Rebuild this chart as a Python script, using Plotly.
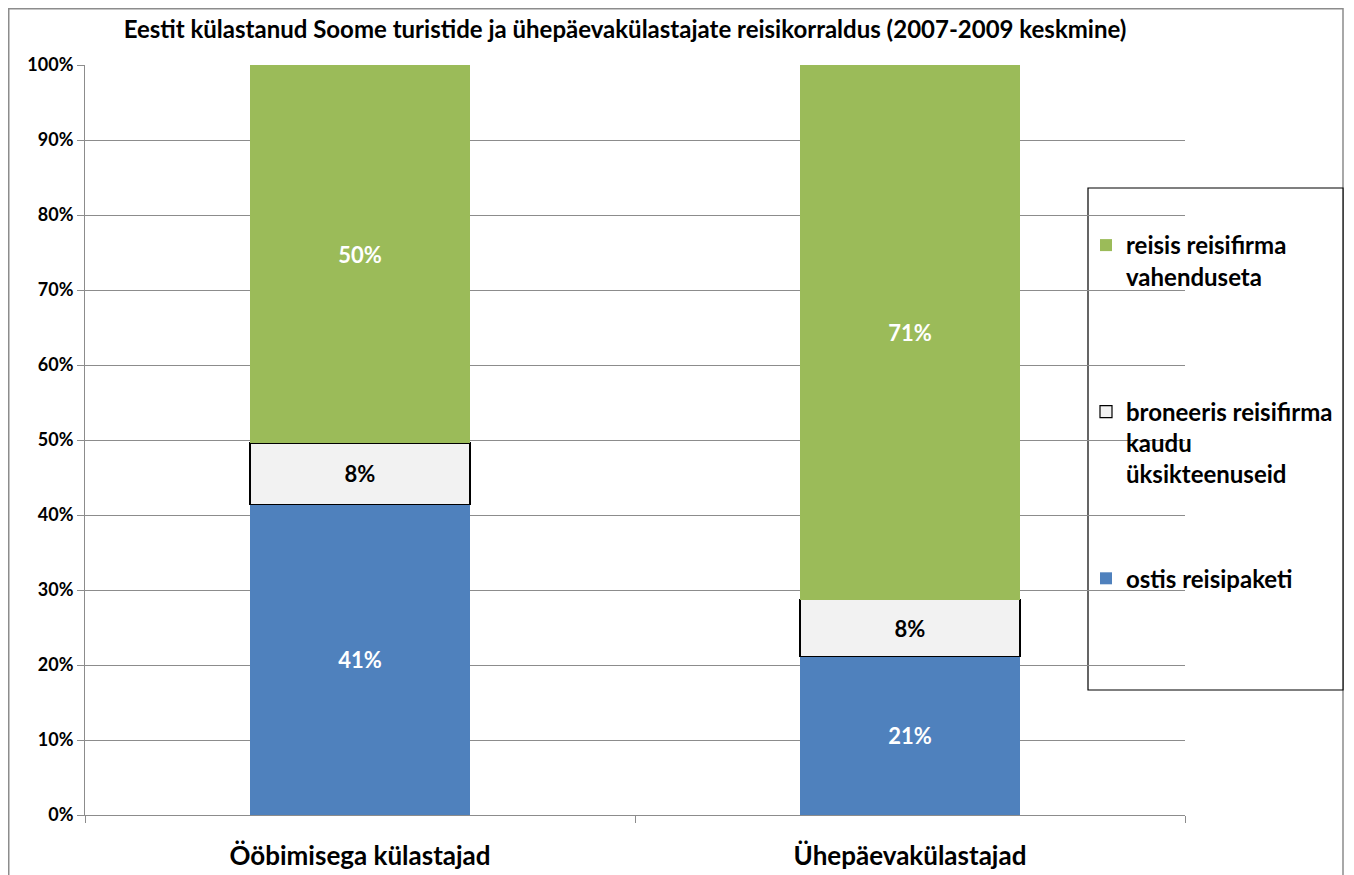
import plotly.graph_objects as go

# data
categories = ["Ööbimisega külastajad", "Ühepäevakülastajad"]
ostis = [41.4, 21.1]
broneeris = [8.2, 7.6]
reisis = [50.4, 71.3]

names = ["ostis reisipaketi",
         "broneeris reisifirma<br>kaudu<br>üksikteenuseid",
         "reisis reisifirma<br>vahenduseta<br> "]
colors = ["#4f81bd", "#f2f2f2", "#9bbb59"]
txtcol = ["white", "black", "white"]
ranks = [3, 2, 1]

FONT = "Lato"
W, H = 1346, 867           # page body has an 8px margin
L, R, T, B = 77, 1177, 57, 807  # plot area in px


def px(x):
    return (x - L) / (R - L)


def py(y):
    return (B - y) / (B - T)


fig = go.Figure()
for i, vals in enumerate([ostis, broneeris, reisis]):
    fig.add_trace(go.Bar(
        x=categories, y=vals, name=names[i], legendgroup=str(i), legendrank=ranks[i],
        marker=dict(color=colors[i],
                    line=dict(color="black" if i == 1 else colors[i], width=1.2 if i == 1 else 0)),
        texttemplate="%{y:.0f}%", textposition="inside", insidetextanchor="middle",
        textfont=dict(family=FONT, size=22, color=txtcol[i], weight="bold"),
        width=0.4,
    ))

fig.update_layout(
    width=W, height=H,
    barmode="stack",
    plot_bgcolor="white", paper_bgcolor="white",
    margin=dict(l=L, r=W - R, t=T, b=H - B, autoexpand=False),
    font=dict(family=FONT, size=18, color="black"),
    title=dict(text="Eestit külastanud Soome turistide ja ühepäevakülastajate reisikorraldus (2007-2009 keskmine)",
               x=617 / W, xanchor="center", y=1 - 22 / H, yanchor="middle",
               font=dict(family=FONT, size=24, color="black", weight="bold")),
    showlegend=True,
    legend=dict(x=px(1078), xanchor="left", y=py(215), yanchor="top",
                traceorder="grouped", tracegroupgap=70, valign="top",
                font=dict(family=FONT, size=24, color="black", weight="bold"),
                bgcolor="rgba(0,0,0,0)", borderwidth=0, itemwidth=30),
    uniformtext=dict(mode="show", minsize=10),
)
fig.update_yaxes(range=[0, 100], dtick=10, ticksuffix="%", showgrid=True, gridcolor="#8c8c8c",
                 gridwidth=1, showline=True, linecolor="#8c8c8c", ticks="outside", ticklen=7,
                 tickcolor="#8c8c8c", tickfont=dict(family=FONT, size=18, weight="bold"),
                 zeroline=False, fixedrange=True, automargin=False)
fig.update_xaxes(showline=True, linecolor="#8c8c8c", ticks="outside", ticklen=7, tickcolor="#8c8c8c",
                 tickson="boundaries", tickfont=dict(family=FONT, size=26, weight="bold"),
                 ticklabelstandoff=18, fixedrange=True, automargin=False)

# outer chart frame and legend frame
fig.add_shape(type="rect", xref="paper", yref="paper", x0=px(0.75), x1=px(1335), y0=py(900), y1=py(0.75),
              line=dict(color="#8c8c8c", width=1.5), fillcolor="rgba(0,0,0,0)", layer="below")
fig.add_shape(type="rect", xref="paper", yref="paper", x0=px(1080), x1=px(1335), y0=py(682), y1=py(180),
              line=dict(color="black", width=1.2), fillcolor="white", layer="below")

fig.write_html("out.html")
